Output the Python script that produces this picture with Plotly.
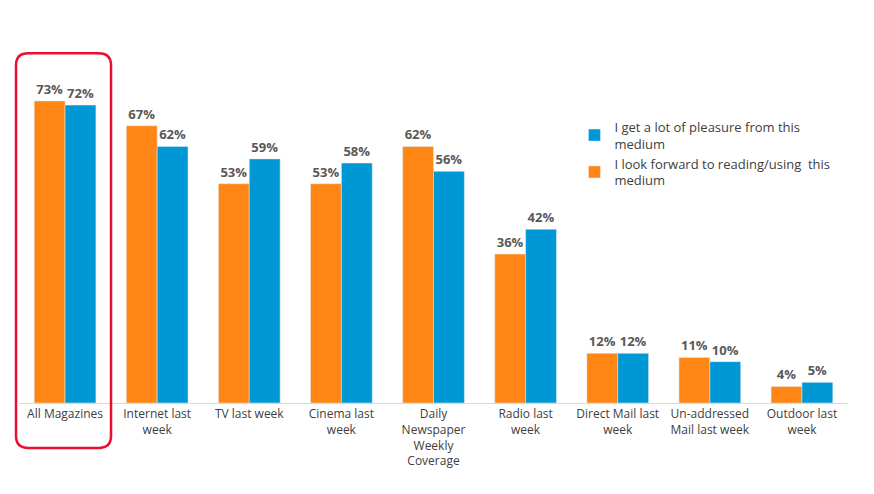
import plotly.graph_objects as go

categories = ["All Magazines", "Internet last<br>week", "TV last week", "Cinema last<br>week",
              "Daily<br>Newspaper<br>Weekly<br>Coverage", "Radio last<br>week", "Direct Mail last<br>week",
              "Un-addressed<br>Mail last week", "Outdoor last<br>week"]
look_forward = [73, 67, 53, 53, 62, 36, 12, 11, 4]
pleasure = [72, 62, 59, 58, 56, 42, 12, 10, 5]

ORANGE = "#FF8615"
BLUE = "#0098D4"

fig = go.Figure()
fig.add_trace(go.Bar(x=categories, y=look_forward, name="I look forward to reading/using  this<br>medium",
                     marker_color=ORANGE, text=[f"{v}%" for v in look_forward], textposition="outside",
                     cliponaxis=False, legendrank=2))
fig.add_trace(go.Bar(x=categories, y=pleasure, name="I get a lot of pleasure from this<br>medium",
                     marker_color=BLUE, text=[f"{v}%" for v in pleasure], textposition="outside",
                     cliponaxis=False, legendrank=1))

# rounded red box around the first category (paper coords)
x0, x1, y0, y1 = -0.0036, 0.111, -0.136, 1.057
rx, ry = 0.015, 0.036
path = (f"M {x0+rx},{y0} L {x1-rx},{y0} Q {x1},{y0} {x1},{y0+ry} L {x1},{y1-ry} Q {x1},{y1} {x1-rx},{y1} "
        f"L {x0+rx},{y1} Q {x0},{y1} {x0},{y1-ry} L {x0},{y0+ry} Q {x0},{y0} {x0+rx},{y0} Z")
fig.add_shape(type="path", path=path, xref="paper", yref="paper", line=dict(color="#E8102E", width=2.5))

fig.update_layout(
    width=874, height=494, barmode="group", bargap=0.33, bargroupgap=0,
    margin=dict(l=11, r=34, t=64, b=99),
    plot_bgcolor="white", paper_bgcolor="white",
    font=dict(family="Open Sans", size=12, color="#404040"),
    uniformtext=dict(minsize=13, mode="show"),
    legend=dict(x=0.67, y=0.88, xanchor="left", yanchor="top", font=dict(size=13, color="#404040"),
                bgcolor="rgba(0,0,0,0)", itemwidth=30, tracegroupgap=6),
    showlegend=True,
)
fig.update_traces(textfont=dict(size=13, color="#595959", family="Open Sans"), texttemplate="<b>%{text}</b>")
fig.update_xaxes(showline=True, linecolor="#D9D9D9", linewidth=1, ticks="", tickfont=dict(size=12))
fig.update_yaxes(visible=False, range=[0, 80])

fig.write_html("out.html")
